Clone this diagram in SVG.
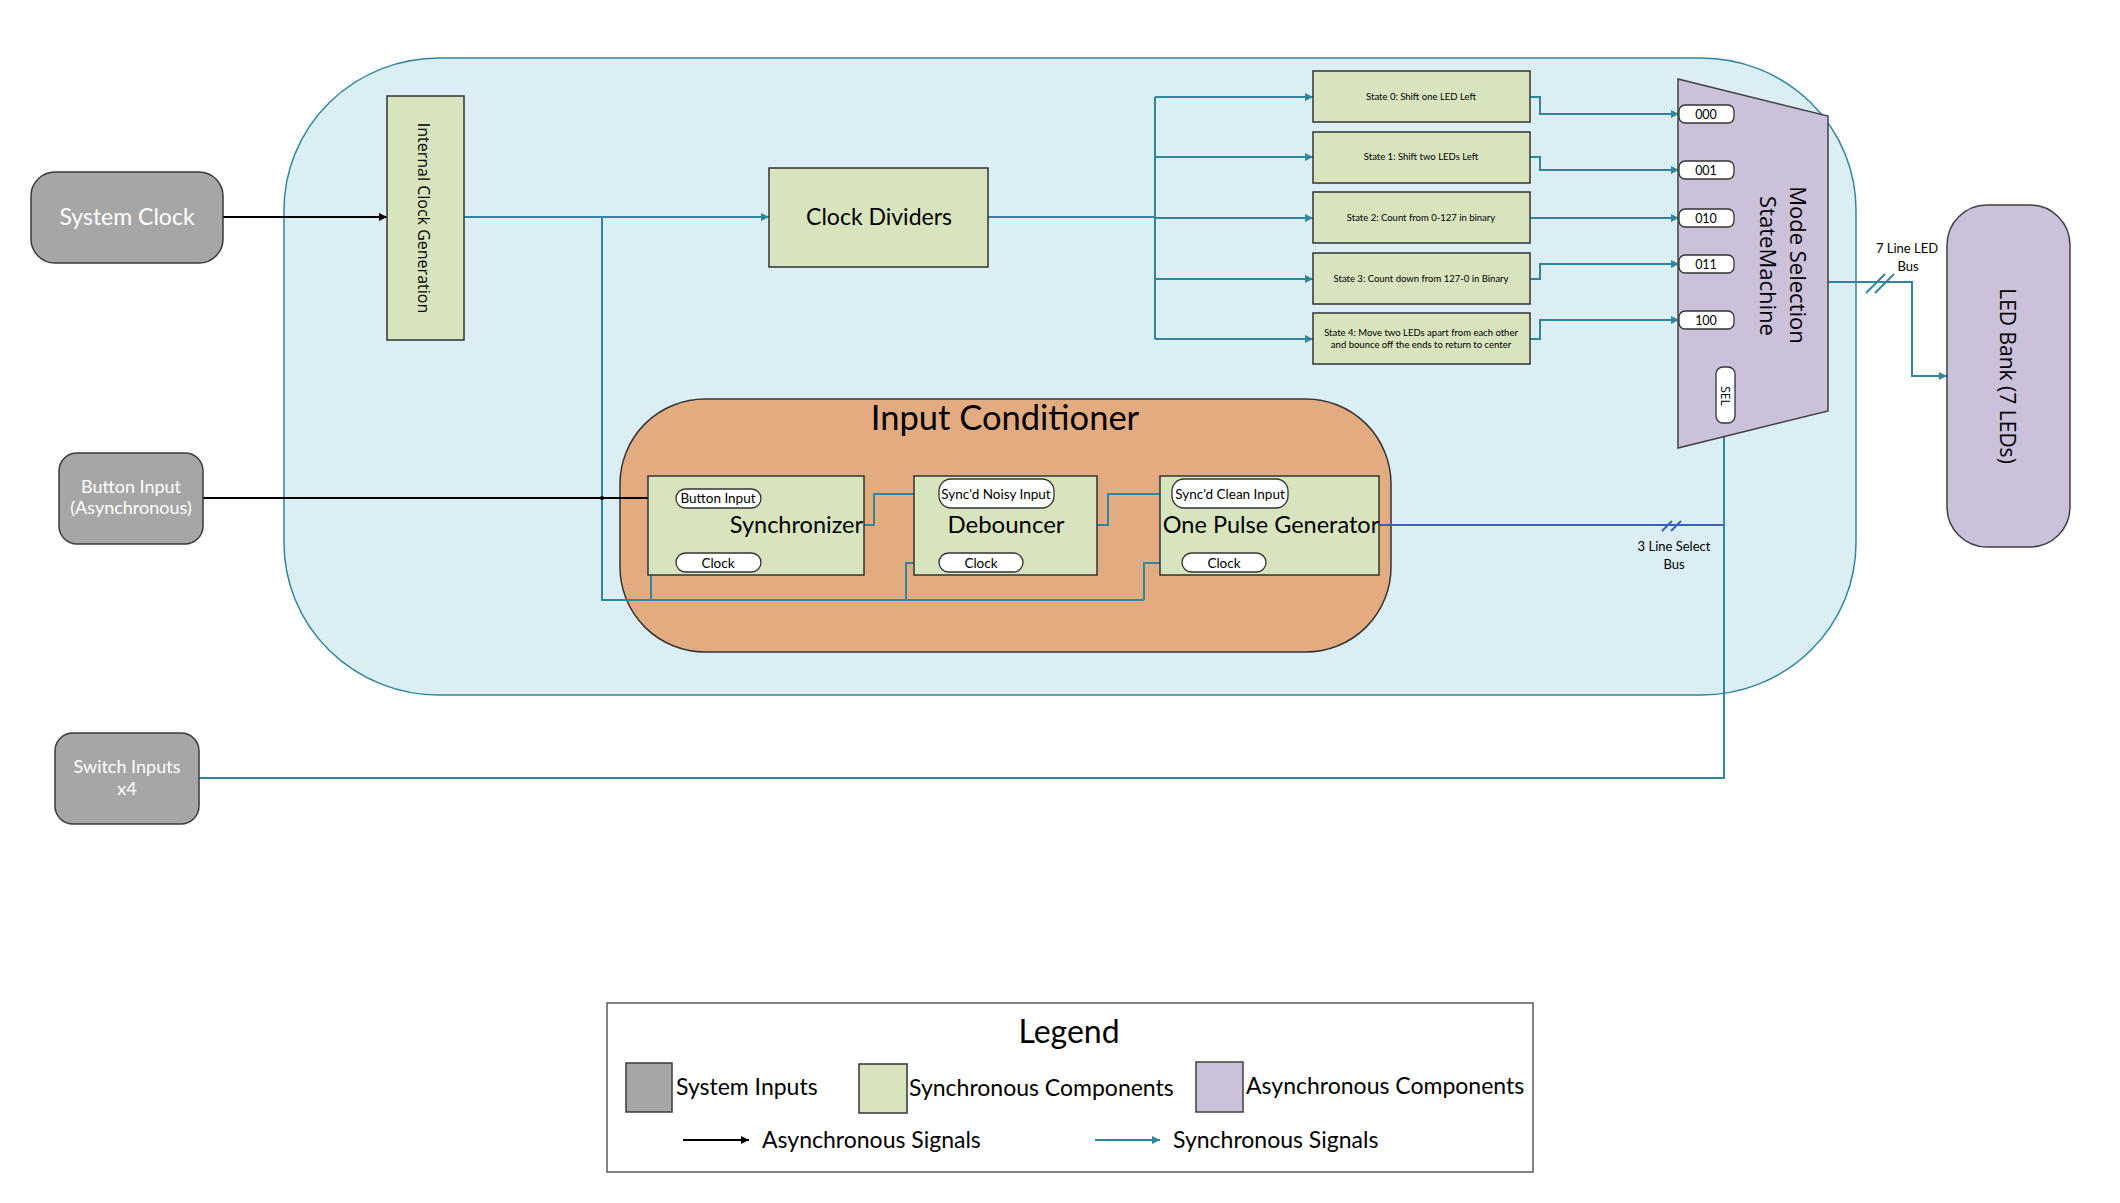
<svg xmlns="http://www.w3.org/2000/svg" width="2120" height="1203" viewBox="0 0 2120 1203">
<style>
.cal{font-family:Lato,"Liberation Sans",sans-serif;fill:#000}
.seg{font-family:"Open Sans","DejaVu Sans",sans-serif;fill:#000}
.wt{fill:#fff}
.inp{fill:#a6a6a6;stroke:#3a3a3a;stroke-width:1.5}
.syn{fill:#d7e4bd;stroke:#333;stroke-width:1.5}
.asy{fill:#ccc1da;stroke:#404040;stroke-width:1.5}
.pill{fill:#fff;stroke:#333;stroke-width:1.3}
.tl{fill:none;stroke:#31859c;stroke-width:2}
.bl{fill:none;stroke:#000;stroke-width:2}
.bu{fill:none;stroke:#3a5fbf;stroke-width:2}
</style>
<defs>
<marker id="at" viewBox="0 0 10 10" refX="10" refY="5" markerWidth="4" markerHeight="4" orient="auto" markerUnits="strokeWidth"><path d="M0,0L10,5L0,10z" fill="#31859c"/></marker>
<marker id="ab" viewBox="0 0 10 10" refX="10" refY="5" markerWidth="4" markerHeight="4" orient="auto" markerUnits="strokeWidth"><path d="M0,0L10,5L0,10z" fill="#000"/></marker>
</defs>
<rect width="2120" height="1203" fill="#fff"/>

<g id="container">
<rect x="284" y="58" width="1572" height="637" rx="155" ry="152" fill="#dbeef4" stroke="#31859c" stroke-width="1.5"/>
</g>

<g id="input-conditioner">
<rect x="620" y="399" width="771" height="253" rx="85" ry="85" fill="#e2ac80" stroke="#333" stroke-width="1.5"/>
<text class="cal" x="1005" y="430" font-size="34.5" text-anchor="middle">Input Conditioner</text>
</g>

<g id="connectors">
<path class="bl" d="M223,217H387" marker-end="url(#ab)"/>
<path class="tl" d="M464,217H769" marker-end="url(#at)"/>
<path class="tl" d="M602,217V600H1144"/>
<path class="tl" d="M651,600V563H676" marker-end="url(#at)"/>
<path class="tl" d="M906,600V563H939" marker-end="url(#at)"/>
<path class="tl" d="M1144,600V563H1182" marker-end="url(#at)"/>
<path class="bl" d="M203,498H676" marker-end="url(#ab)"/>
<circle cx="602" cy="498" r="2" fill="#000"/>
<path class="tl" d="M864,525H874V494H939" marker-end="url(#at)"/>
<path class="tl" d="M1097,525H1108V494H1172" marker-end="url(#at)"/>
<path class="bu" d="M1379,525H1724"/>
<path class="bu" d="M1662,531L1672,521M1671,531L1681,521" stroke-width="1.5"/>
<path class="tl" d="M988,217H1155" stroke-width="2.5"/>
<path class="tl" d="M1155,97V339"/>
<path class="tl" d="M1155,97H1313" marker-end="url(#at)"/>
<path class="tl" d="M1155,157H1313" marker-end="url(#at)"/>
<path class="tl" d="M1155,218H1313" marker-end="url(#at)"/>
<path class="tl" d="M1155,279H1313" marker-end="url(#at)"/>
<path class="tl" d="M1155,339H1313" marker-end="url(#at)"/>
<path class="tl" d="M1530,97H1540V114H1679" marker-end="url(#at)"/>
<path class="tl" d="M1530,157H1540V170H1679" marker-end="url(#at)"/>
<path class="tl" d="M1530,218H1679" marker-end="url(#at)"/>
<path class="tl" d="M1530,279H1540V264H1679" marker-end="url(#at)"/>
<path class="tl" d="M1530,339H1540V320H1679" marker-end="url(#at)"/>
<path class="tl" d="M1828,282H1912V376H1947" marker-end="url(#at)"/>
<path class="tl" d="M1866,293L1885,274M1875,293L1894,274" stroke-width="1.5"/>
<path class="tl" d="M199,778H1724V423" marker-end="url(#at)"/>
</g>

<g id="labels">
<text class="cal" x="1907" y="253" font-size="13" text-anchor="middle">7 Line LED</text>
<text class="cal" x="1908" y="271" font-size="13" text-anchor="middle">Bus</text>
<text class="cal" x="1674" y="551" font-size="13" text-anchor="middle">3 Line Select</text>
<text class="cal" x="1674" y="569" font-size="13" text-anchor="middle">Bus</text>
</g>

<g id="system-clock">
<rect class="inp" x="31" y="172" width="192" height="91" rx="24"/>
<text class="cal wt" x="127" y="225" font-size="23" text-anchor="middle">System Clock</text>
</g>

<g id="button-input">
<rect class="inp" x="59" y="453" width="144" height="91" rx="18"/>
<text class="cal wt" x="131" y="493" font-size="18" text-anchor="middle">Button Input</text>
<text class="cal wt" x="131" y="514" font-size="18" text-anchor="middle">(Asynchronous)</text>
</g>

<g id="switch-inputs">
<rect class="inp" x="55" y="733" width="144" height="91" rx="18"/>
<text class="cal wt" x="127" y="773" font-size="18" text-anchor="middle">Switch Inputs</text>
<text class="cal wt" x="127" y="795" font-size="18" text-anchor="middle">x4</text>
</g>

<g id="internal-clock-generation">
<rect class="syn" x="387" y="96" width="77" height="244"/>
<text class="seg" transform="translate(418,218) rotate(90)" font-size="16" text-anchor="middle">Internal Clock Generation</text>
</g>

<g id="clock-dividers">
<rect class="syn" x="769" y="168" width="219" height="99"/>
<text class="cal" x="879" y="225" font-size="23" text-anchor="middle">Clock Dividers</text>
</g>

<g id="state-0">
<rect class="syn" x="1313" y="71" width="217" height="51"/>
<text class="cal" x="1421" y="100" font-size="9.5" text-anchor="middle">State 0: Shift one LED Left</text>
</g>
<g id="state-1">
<rect class="syn" x="1313" y="132" width="217" height="51"/>
<text class="cal" x="1421" y="160" font-size="9.5" text-anchor="middle">State 1: Shift two LEDs Left</text>
</g>
<g id="state-2">
<rect class="syn" x="1313" y="192" width="217" height="51"/>
<text class="cal" x="1421" y="221" font-size="9.5" text-anchor="middle">State 2: Count from 0-127 in binary</text>
</g>
<g id="state-3">
<rect class="syn" x="1313" y="253" width="217" height="51"/>
<text class="cal" x="1421" y="282" font-size="9.5" text-anchor="middle">State 3: Count down from 127-0 in Binary</text>
</g>
<g id="state-4">
<rect class="syn" x="1313" y="313" width="217" height="51"/>
<text class="cal" x="1421" y="336" font-size="9.5" text-anchor="middle">State 4: Move two LEDs apart from each other</text>
<text class="cal" x="1421" y="348" font-size="9.5" text-anchor="middle">and bounce off the ends to return to center</text>
</g>

<g id="mode-selection-state-machine">
<path class="asy" d="M1678,79L1828,116V411L1678,448Z"/>
<text class="seg" transform="translate(1790,265) rotate(90)" font-size="22" text-anchor="middle">Mode Selection</text>
<text class="seg" transform="translate(1760,266) rotate(90)" font-size="22" text-anchor="middle">StateMachine</text>
<rect class="pill" x="1679" y="105" width="55" height="18" rx="6"/>
<text class="cal" x="1706" y="119" font-size="12.5" text-anchor="middle">000</text>
<rect class="pill" x="1679" y="161" width="55" height="18" rx="6"/>
<text class="cal" x="1706" y="175" font-size="12.5" text-anchor="middle">001</text>
<rect class="pill" x="1679" y="209" width="55" height="18" rx="6"/>
<text class="cal" x="1706" y="223" font-size="12.5" text-anchor="middle">010</text>
<rect class="pill" x="1679" y="255" width="55" height="18" rx="6"/>
<text class="cal" x="1706" y="269" font-size="12.5" text-anchor="middle">011</text>
<rect class="pill" x="1679" y="311" width="55" height="18" rx="6"/>
<text class="cal" x="1706" y="325" font-size="12.5" text-anchor="middle">100</text>
<rect class="pill" x="1716" y="367" width="19" height="56" rx="7"/>
<text class="seg" transform="translate(1721,396) rotate(90)" font-size="12" text-anchor="middle">SEL</text>
</g>

<g id="led-bank">
<rect class="asy" x="1947" y="205" width="123" height="342" rx="40"/>
<text class="seg" transform="translate(2000,376) rotate(90)" font-size="21" text-anchor="middle">LED Bank (7 LEDs)</text>
</g>

<g id="synchronizer">
<rect class="syn" x="648" y="476" width="216" height="99"/>
<rect class="pill" x="676" y="489" width="85" height="19" rx="9.5"/>
<text class="cal" x="718" y="503" font-size="13.5" text-anchor="middle">Button Input</text>
<rect class="pill" x="676" y="553" width="85" height="19" rx="9.5"/>
<text class="cal" x="718" y="568" font-size="13.5" text-anchor="middle">Clock</text>
<text class="cal" x="863" y="533" font-size="23.5" text-anchor="end">Synchronizer</text>
</g>

<g id="debouncer">
<rect class="syn" x="914" y="476" width="183" height="99"/>
<rect class="pill" x="939" y="479" width="115" height="29" rx="12"/>
<text class="cal" x="996" y="499" font-size="13.5" text-anchor="middle">Sync'd Noisy Input</text>
<rect class="pill" x="939" y="553" width="84" height="19" rx="9.5"/>
<text class="cal" x="981" y="568" font-size="13.5" text-anchor="middle">Clock</text>
<text class="cal" x="1006" y="533" font-size="24" text-anchor="middle">Debouncer</text>
</g>

<g id="one-pulse-generator">
<rect class="syn" x="1160" y="476" width="219" height="99"/>
<rect class="pill" x="1172" y="479" width="116" height="29" rx="12"/>
<text class="cal" x="1230" y="499" font-size="13.5" text-anchor="middle">Sync'd Clean Input</text>
<rect class="pill" x="1182" y="553" width="84" height="19" rx="9.5"/>
<text class="cal" x="1224" y="568" font-size="13.5" text-anchor="middle">Clock</text>
<text class="cal" x="1271" y="533" font-size="23.5" text-anchor="middle">One Pulse Generator</text>
</g>

<g id="legend">
<rect x="607" y="1003" width="926" height="169" fill="#fff" stroke="#595959" stroke-width="1.5"/>
<text class="cal" x="1069" y="1043" font-size="32" text-anchor="middle">Legend</text>
<rect class="inp" x="626" y="1063" width="46" height="49"/>
<text class="cal" x="676" y="1095" font-size="23">System Inputs</text>
<rect class="syn" x="859" y="1064" width="48" height="49"/>
<text class="cal" x="909" y="1096" font-size="23">Synchronous Components</text>
<rect class="asy" x="1196" y="1062" width="47" height="50"/>
<text class="cal" x="1246" y="1094" font-size="23">Asynchronous Components</text>
<path class="bl" d="M683,1140H749" marker-end="url(#ab)" stroke-width="1.8"/>
<text class="cal" x="762" y="1148" font-size="23">Asynchronous Signals</text>
<path class="tl" d="M1095,1140H1160" marker-end="url(#at)" stroke-width="1.8"/>
<text class="cal" x="1173" y="1148" font-size="23">Synchronous Signals</text>
</g>
</svg>
